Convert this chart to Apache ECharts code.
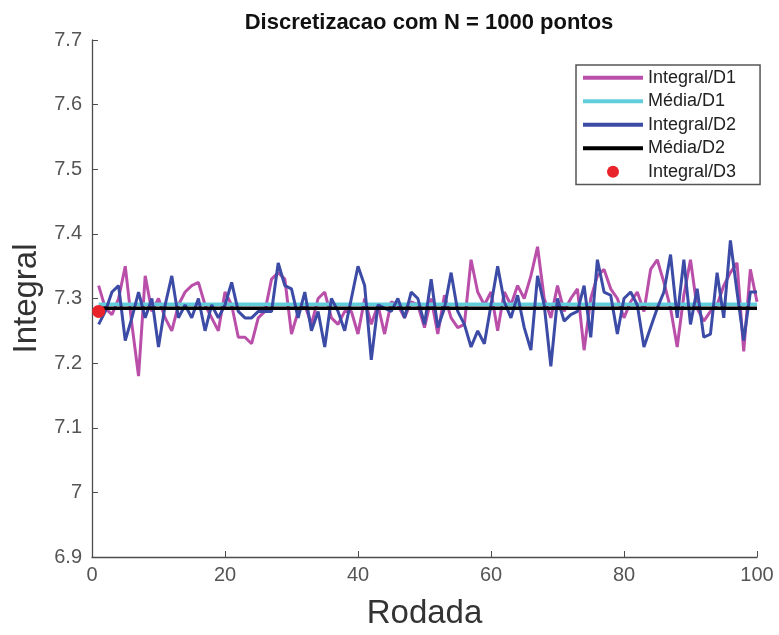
<!DOCTYPE html>
<html>
<head>
<meta charset="utf-8">
<script src="https://cdn.jsdelivr.net/npm/echarts@6/dist/echarts.min.js"></script>
<style>html,body{margin:0;padding:0;background:#fff;}#c{width:779px;height:635px;}</style>
</head>
<body>
<div id="c"></div>
<script>
const integralD1 = [7.32,7.285,7.275,7.30,7.35,7.26,7.18,7.335,7.28,7.30,
7.27,7.25,7.29,7.31,7.32,7.325,7.29,7.27,7.25,7.31,
7.29,7.24,7.24,7.23,7.27,7.28,7.33,7.34,7.33,7.245,
7.28,7.29,7.26,7.30,7.31,7.27,7.26,7.28,7.28,7.245,
7.30,7.26,7.29,7.245,7.295,7.29,7.27,7.295,7.29,7.255,
7.30,7.245,7.305,7.27,7.255,7.26,7.36,7.31,7.29,7.31,
7.25,7.31,7.29,7.32,7.30,7.335,7.38,7.30,7.27,7.32,
7.28,7.30,7.315,7.22,7.30,7.335,7.345,7.315,7.30,7.27,
7.295,7.31,7.28,7.345,7.36,7.325,7.285,7.225,7.305,7.36,
7.285,7.265,7.28,7.29,7.32,7.34,7.355,7.218,7.345,7.295];
const integralD2 = [7.26,7.28,7.31,7.32,7.235,7.27,7.31,7.27,7.30,7.225,
7.29,7.335,7.27,7.29,7.27,7.30,7.25,7.29,7.27,7.29,
7.325,7.28,7.27,7.27,7.28,7.28,7.28,7.355,7.32,7.315,
7.27,7.31,7.25,7.28,7.225,7.30,7.28,7.25,7.30,7.35,
7.32,7.205,7.29,7.285,7.28,7.30,7.27,7.31,7.30,7.26,
7.33,7.255,7.285,7.34,7.28,7.26,7.225,7.25,7.23,7.29,
7.35,7.295,7.27,7.305,7.255,7.22,7.335,7.29,7.195,7.30,
7.265,7.275,7.28,7.32,7.24,7.36,7.31,7.305,7.245,7.30,
7.31,7.29,7.225,7.255,7.285,7.31,7.368,7.27,7.36,7.26,
7.315,7.24,7.245,7.34,7.27,7.39,7.31,7.235,7.31,7.31];
const mediaD1 = 7.291;
const mediaD2 = 7.285;
const integralD3 = [[1, 7.28]];
const firstRun = 1, lastRun = 100;

const toPairs = arr => arr.map((v, i) => [i + 1, v]);
const font = 'Liberation Sans, Arial, sans-serif';
const axisColor = '#4d4d4d';
const lineIcon = 'path://M0,0H60V4H0Z';

const chart = echarts.init(document.getElementById('c'));
chart.setOption({
  animation: false,
  backgroundColor: '#fff',
  title: {
    text: 'Discretizacao com N = 1000 pontos',
    left: 424, top: 7, textAlign: 'center',
    textStyle: {fontFamily: font, fontSize: 22, fontWeight: 'bold', color: '#111'}
  },
  grid: {left: 92, right: 22, top: 40, bottom: 77, containLabel: false},
  legend: {
    orient: 'vertical', left: 576, top: 65,
    itemWidth: 60, itemHeight: 12, itemGap: 2,
    padding: [2, 24, 2, 7],
    borderColor: '#555', borderWidth: 1.5, backgroundColor: '#fff',
    textStyle: {fontFamily: font, fontSize: 18, lineHeight: 21.5, color: '#222'},
    data: [
      {name: 'Integral/D1', icon: lineIcon},
      {name: 'Média/D1', icon: lineIcon},
      {name: 'Integral/D2', icon: lineIcon},
      {name: 'Média/D2', icon: lineIcon},
      {name: 'Integral/D3', icon: 'circle'}
    ]
  },
  xAxis: {
    type: 'value', min: 0, max: 100, interval: 20,
    name: 'Rodada', nameLocation: 'middle', nameGap: 40,
    nameTextStyle: {fontFamily: font, fontSize: 33, color: '#333'},
    axisLine: {lineStyle: {color: axisColor, width: 1.3}},
    axisTick: {inside: true, length: 6, lineStyle: {color: axisColor}},
    axisLabel: {fontFamily: font, fontSize: 20, color: '#555', margin: 8},
    splitLine: {show: false}
  },
  yAxis: {
    type: 'value', min: 6.9, max: 7.7, interval: 0.1,
    name: 'Integral', nameLocation: 'middle', nameGap: 47, nameRotate: 90,
    nameTextStyle: {fontFamily: font, fontSize: 33, color: '#333'},
    axisLine: {show: true, lineStyle: {color: axisColor, width: 1.3}},
    axisTick: {show: true, inside: true, length: 6, lineStyle: {color: axisColor}},
    axisLabel: {fontFamily: font, fontSize: 20, color: '#555', margin: 10,
      formatter: v => String(parseFloat(v.toFixed(1)))},
    splitLine: {show: false}
  },
  series: [
    {name: 'Integral/D1', type: 'line', data: toPairs(integralD1), symbol: 'none',
     lineStyle: {color: '#BA4FAA', width: 3}, itemStyle: {color: '#BA4FAA'}},
    {name: 'Média/D1', type: 'line', data: [[firstRun, mediaD1], [lastRun, mediaD1]], symbol: 'none',
     lineStyle: {color: '#62CEDC', width: 3.5}, itemStyle: {color: '#62CEDC'}},
    {name: 'Integral/D2', type: 'line', data: toPairs(integralD2), symbol: 'none',
     lineStyle: {color: '#3B4BA6', width: 3}, itemStyle: {color: '#3B4BA6'}},
    {name: 'Média/D2', type: 'line', data: [[firstRun, mediaD2], [lastRun, mediaD2]], symbol: 'none',
     lineStyle: {color: '#000', width: 3.5}, itemStyle: {color: '#000'}},
    {name: 'Integral/D3', type: 'scatter', data: integralD3, symbol: 'circle', symbolSize: 13,
     itemStyle: {color: '#E8232A', opacity: 1}, z: 5}
  ]
});
</script>
</body>
</html>
